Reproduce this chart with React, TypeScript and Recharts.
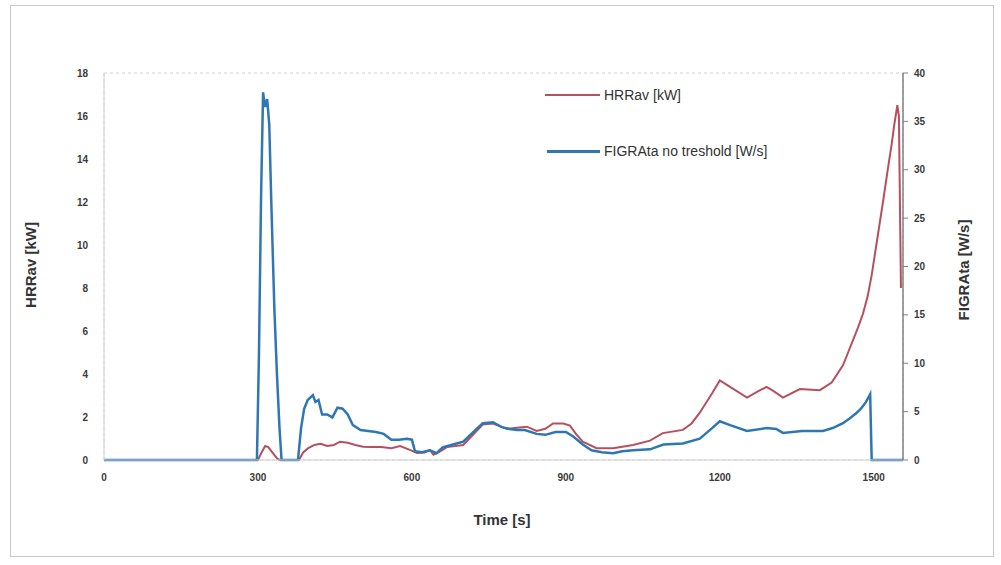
import React from 'react';
import { LineChart, Line, XAxis, YAxis, CartesianGrid } from 'recharts';

// ─── Data ─────────────────────────────────────────────────────────────────────

const timeTicks = [0, 300, 600, 900, 1200, 1500];
const hrrTicks = [0, 2, 4, 6, 8, 10, 12, 14, 16, 18];
const figraTicks = [0, 5, 10, 15, 20, 25, 30, 35, 40];

// HRRav [kW] (left axis)
const hrrTime = [
  0, 300, 306, 314, 320, 328, 338, 343, 380, 388, 398, 410, 422, 435, 448, 460, 475, 490,
  505, 520, 540, 560, 577, 596, 610, 625, 635, 642, 655, 668, 700, 720, 738, 758, 785, 805,
  824, 843, 860, 875, 895, 908, 920, 933, 960, 992, 1031, 1064, 1089, 1128, 1145, 1161, 1185,
  1200, 1220, 1253, 1275, 1291, 1305, 1323, 1356, 1395, 1418, 1440, 1450, 1460, 1470, 1479,
  1488, 1496, 1505, 1518, 1526, 1535, 1540, 1546, 1549, 1553,
];
const hrrValues = [
  0, 0, 0.3, 0.65, 0.6, 0.35, 0.05, 0, 0, 0.35, 0.55, 0.7, 0.75, 0.65, 0.7, 0.85, 0.8, 0.7,
  0.62, 0.6, 0.6, 0.55, 0.65, 0.47, 0.33, 0.35, 0.47, 0.25, 0.4, 0.6, 0.7, 1.2, 1.65, 1.7,
  1.45, 1.5, 1.55, 1.35, 1.45, 1.7, 1.7, 1.6, 1.2, 0.85, 0.55, 0.55, 0.7, 0.9, 1.25, 1.4,
  1.7, 2.2, 3.1, 3.7, 3.4, 2.9, 3.2, 3.4, 3.2, 2.9, 3.3, 3.25, 3.6, 4.4, 5.0, 5.6, 6.2, 6.8,
  7.6, 8.6, 10.0, 12.0, 13.3, 14.7, 15.6, 16.5, 16.0, 8.0,
];

// FIGRAta no treshold [W/s] (right axis)
const figraTime = [
  0, 298, 302, 306, 310, 314, 318, 322, 326, 332, 337, 342, 346, 378, 384, 390, 397, 407,
  412, 418, 425, 435, 445, 455, 465, 475, 485, 500, 515, 530, 545, 560, 575, 590, 600, 606,
  620, 635, 648, 660, 680, 700, 720, 738, 758, 775, 790, 805, 820, 843, 860, 880, 900, 915,
  933, 950, 970, 992, 1010, 1031, 1064, 1090, 1128, 1161, 1185, 1200, 1220, 1253, 1291,
  1310, 1323, 1360, 1401, 1420, 1440, 1453, 1465, 1475, 1485, 1493, 1496, 1557,
];
const figraValues = [
  0, 0, 11, 27, 38.0, 36.5, 37.3, 34.7, 26.7, 15.6, 8.9, 3.3, 0, 0, 3.3, 5.3, 6.2, 6.7,
  6.0, 6.2, 4.7, 4.7, 4.4, 5.4, 5.3, 4.7, 3.6, 3.1, 3.0, 2.9, 2.7, 2.1, 2.1, 2.2, 2.1, 0.9,
  0.8, 1.0, 0.7, 1.3, 1.6, 1.9, 2.9, 3.8, 3.9, 3.4, 3.2, 3.1, 3.1, 2.7, 2.6, 2.9, 2.9, 2.4,
  1.6, 1.0, 0.8, 0.7, 0.9, 1.0, 1.1, 1.6, 1.7, 2.2, 3.3, 4.0, 3.6, 3.0, 3.3, 3.2, 2.8, 3.0,
  3.0, 3.3, 3.8, 4.3, 4.8, 5.3, 6.0, 6.8, 0, 0,
];

const hrrData = hrrTime.map((t, i) => ({ t, hrr: hrrValues[i] }));
const figraData = figraTime.map((t, i) => ({ t, figra: figraValues[i] }));

const RED = '#b5505f';
const BLUE = '#2f77b0';
const FONT = '"Liberation Sans", Arial, sans-serif';

const tickStyle = { fill: '#3a3a3a', fontSize: 10, fontWeight: 'bold' as const, fontFamily: FONT };

export default function App() {
  return (
    <div style={{ position: 'absolute', left: 0, top: 0, width: 1001, height: 565, background: '#fff', fontFamily: FONT }}>
      <div style={{ position: 'absolute', left: 10, top: 5, width: 982, height: 550, border: '1px solid #c8c8c8' }} />
      <LineChart width={1001} height={565} margin={{ top: 73, right: 48, left: 54, bottom: 75 }}>
        <CartesianGrid stroke="#d2d2d2" strokeDasharray="3 3" />
        <XAxis
          xAxisId="t"
          type="number"
          dataKey="t"
          domain={[0, 1557]}
          ticks={timeTicks}
          allowDuplicatedCategory={false}
          height={30}
          tick={tickStyle}
          tickLine={false}
          axisLine={{ stroke: '#cfcfcf' }}
          tickMargin={8}
        />
        <YAxis
          yAxisId="left"
          domain={[0, 18]}
          ticks={hrrTicks}
          width={50}
          tick={tickStyle}
          tickLine={false}
          axisLine={{ stroke: '#d0d0d0' }}
          tickMargin={10}
        />
        <YAxis
          yAxisId="right"
          orientation="right"
          domain={[0, 40]}
          ticks={figraTicks}
          width={50}
          tick={tickStyle}
          tickLine={{ stroke: '#808080' }}
          tickSize={5}
          axisLine={{ stroke: '#808080', strokeWidth: 1.5 }}
          tickMargin={6}
        />
        <Line
          xAxisId="t"
          yAxisId="left"
          data={hrrData}
          dataKey="hrr"
          type="linear"
          stroke={RED}
          strokeWidth={2}
          dot={false}
          isAnimationActive={false}
        />
        <Line
          xAxisId="t"
          yAxisId="right"
          data={figraData}
          dataKey="figra"
          type="linear"
          stroke={BLUE}
          strokeWidth={2.5}
          dot={false}
          isAnimationActive={false}
        />
      </LineChart>

      {/* Axis titles */}
      <div style={{ position: 'absolute', left: 30, top: 265, transform: 'translate(-50%, -50%) rotate(-90deg)', fontSize: 15, fontWeight: 'bold', color: '#333', whiteSpace: 'nowrap' }}>
        HRRav [kW]
      </div>
      <div style={{ position: 'absolute', left: 963, top: 270, transform: 'translate(-50%, -50%) rotate(-90deg)', fontSize: 15, fontWeight: 'bold', color: '#333', whiteSpace: 'nowrap' }}>
        FIGRAta [W/s]
      </div>
      <div style={{ position: 'absolute', left: 502, top: 519, transform: 'translate(-50%, -50%)', fontSize: 15, fontWeight: 'bold', color: '#333', whiteSpace: 'nowrap' }}>
        Time [s]
      </div>

      {/* Legend */}
      <div style={{ position: 'absolute', left: 545, top: 87, display: 'flex', alignItems: 'center', fontSize: 14, color: '#333' }}>
        <span style={{ display: 'inline-block', width: 55, height: 2, background: RED, marginRight: 4 }} />
        HRRav [kW]
      </div>
      <div style={{ position: 'absolute', left: 547, top: 143, display: 'flex', alignItems: 'center', fontSize: 14, color: '#333' }}>
        <span style={{ display: 'inline-block', width: 53, height: 3, background: BLUE, marginRight: 4 }} />
        FIGRAta no treshold [W/s]
      </div>
    </div>
  );
}
